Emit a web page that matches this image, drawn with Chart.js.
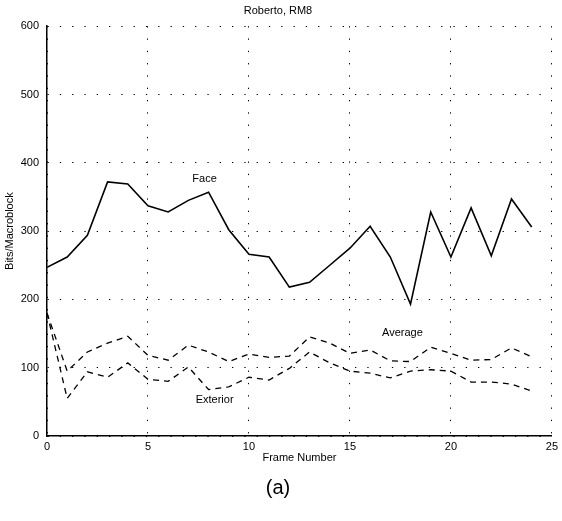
<!DOCTYPE html>
<html>
<head>
<meta charset="utf-8">
<script src="https://cdn.jsdelivr.net/npm/chart.js@4/dist/chart.umd.min.js"></script>
<style>
  html, body { margin: 0; padding: 0; background: #fff; }
  #wrap { width: 562px; height: 521px; }
</style>
</head>
<body>
<div id="wrap"><canvas id="chart" width="562" height="521"></canvas></div>
<script>
// frame numbers 0..24
const frames = [0, 1, 2, 3, 4, 5, 6, 7, 8, 9, 10, 11, 12, 13, 14, 15, 16, 17, 18, 19, 20, 21, 22, 23, 24];
// bits per macroblock
const face = [247, 262, 294, 372, 369, 337, 328, 345, 357, 302, 266, 262, 218, 225, 250, 275, 307, 262, 193, 328, 262, 334, 264, 347, 306];
const average = [180, 95, 123, 136, 146, 118, 111, 133, 123, 109, 120, 115, 117, 145, 136, 121, 126, 110, 109, 130, 121, 111, 112, 129, 116];
const exterior = [180, 55, 94, 86, 107, 83, 80, 101, 68, 72, 86, 82, 99, 123, 107, 95, 92, 85, 95, 97, 95, 79, 79, 76, 66];
const xTicks = [0, 5, 10, 15, 20, 25];
const yTicks = [0, 100, 200, 300, 400, 500, 600];
const labels = [
    { text: "Face", x: 7.8, y: 376 },
    { text: "Average", x: 17.6, y: 151 },
    { text: "Exterior", x: 8.3, y: 53 }
];

const FONT = "'Liberation Sans', Arial, Helvetica, sans-serif";

// draws the line labels inside the plot
const curveLabels = {
    id: "curveLabels",
    afterDatasetsDraw(chart) {
        let ctx = chart.ctx;
        let sx = chart.scales.x, sy = chart.scales.y;
        ctx.save();
        ctx.fillStyle = "#000";
        ctx.font = "11px " + FONT;
        ctx.textAlign = "center";
        ctx.textBaseline = "middle";
        labels.forEach(l => ctx.fillText(l.text, sx.getPixelForValue(l.x), sy.getPixelForValue(l.y)));
        ctx.restore();
    }
};

const whiteBg = {
    id: "whiteBg",
    beforeDraw(chart) {
        let ctx = chart.ctx;
        ctx.save();
        ctx.fillStyle = "#fff";
        ctx.fillRect(0, 0, chart.width, chart.height);
        ctx.restore();
    }
};

onload = () => {
    Chart.defaults.font.family = FONT;
    Chart.defaults.font.size = 11;
    Chart.defaults.color = "#000";
    let toPts = arr => arr.map((v, i) => ({ x: frames[i], y: v }));
    new Chart(document.getElementById("chart"), {
        type: "line",
        data: {
            datasets: [
                { label: "Face", data: toPts(face), borderColor: "#000", borderWidth: 1.6 },
                { label: "Average", data: toPts(average), borderColor: "#000", borderWidth: 1.3, borderDash: [6, 5] },
                { label: "Exterior", data: toPts(exterior), borderColor: "#000", borderWidth: 1.3, borderDash: [6, 5] }
            ]
        },
        options: {
            responsive: false,
            animation: false,
            layout: { padding: { left: 0, right: 6, top: 0, bottom: 0 } },
            elements: { point: { radius: 0 }, line: { tension: 0, fill: false } },
            plugins: {
                legend: { display: false },
                tooltip: { enabled: false },
                title: { display: true, text: "Roberto, RM8", font: { size: 11, weight: "normal" }, padding: { top: 4, bottom: 9 } },
                subtitle: { display: true, position: "bottom", text: "(a)", font: { size: 20, weight: "normal" }, padding: { top: 8, bottom: 21 } }
            },
            scales: {
                x: {
                    type: "linear", min: 0, max: 25,
                    afterBuildTicks: s => { s.ticks = xTicks.map(v => ({ value: v })); },
                    afterFit: s => { s.height = 32; },
                    ticks: { padding: 4, maxRotation: 0 },
                    grid: { color: "#000", lineWidth: 1, drawTicks: false },
                    border: { display: true, color: "#000", width: 1.5, dash: [1.3, 11] },
                    title: { display: true, text: "Frame Number", padding: { top: 0, bottom: 3 } }
                },
                y: {
                    type: "linear", min: 0, max: 600,
                    afterBuildTicks: s => { s.ticks = yTicks.map(v => ({ value: v })); },
                    afterFit: s => { s.width = 47; },
                    ticks: { padding: 8 },
                    grid: { color: "#000", lineWidth: 1, drawTicks: false },
                    border: { display: true, color: "#000", width: 1.5, dash: [1.3, 11] },
                    title: { display: true, text: "Bits/Macroblock", padding: { top: 3, bottom: 0 } }
                }
            }
        },
        plugins: [whiteBg, curveLabels]
    });
};
</script>
</body>
</html>
